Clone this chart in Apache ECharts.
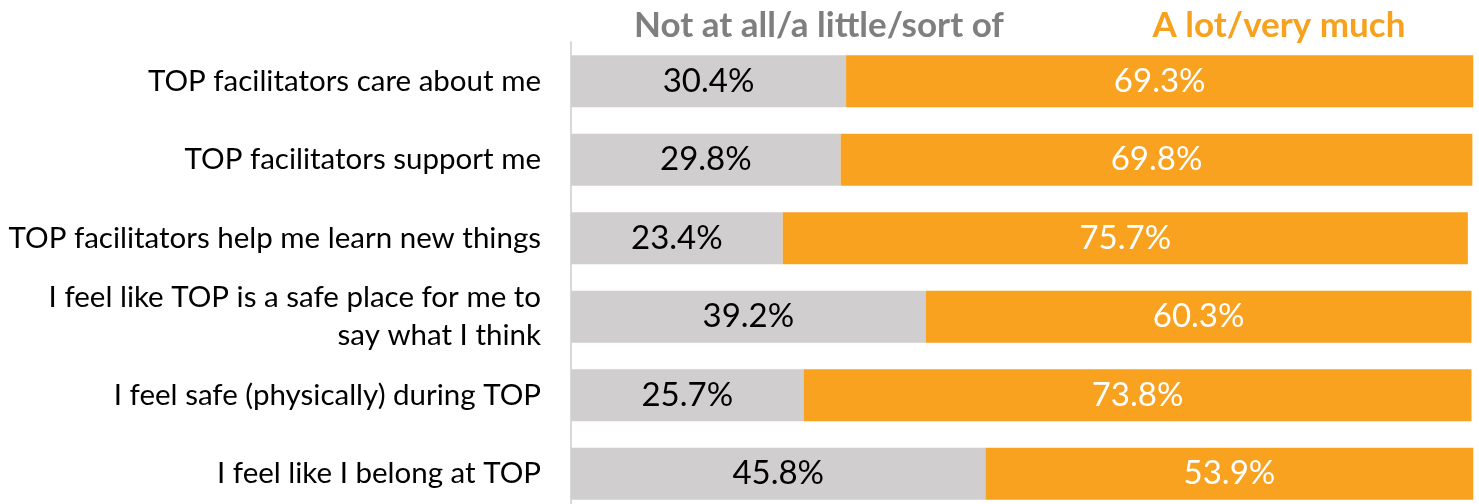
<!DOCTYPE html>
<html><head><meta charset="utf-8">
<script src="https://cdn.jsdelivr.net/npm/echarts@6/dist/echarts.min.js"></script>
<style>html,body{margin:0;padding:0;background:#fff;overflow:hidden}#c{width:1479px;height:520px}</style>
</head><body><div id="c"></div>
<script>
const categories = [
  "TOP facilitators care about me",
  "TOP facilitators support me",
  "TOP facilitators help me learn new things",
  "I feel like TOP is a safe place for me to\nsay what I think",
  "I feel safe (physically) during TOP",
  "I feel like I belong at TOP"
];
const lowValues = [30.4, 29.8, 23.4, 39.2, 25.7, 45.8];
const highValues = [69.3, 69.8, 75.7, 60.3, 73.8, 53.9];
const seriesNames = ["Not at all/a little/sort of", "A lot/very much"];

const FONT = "Lato";
const chart = echarts.init(document.getElementById('c'));
chart.setOption({
  animation: false,
  title: [
    {text: seriesNames[0], left: 814, top: 3, textAlign: 'center',
     textStyle: {fontFamily: FONT, fontWeight: 'bold', fontSize: 35, color: '#7f7f7f'}},
    {text: seriesNames[1], left: 1274, top: 3, textAlign: 'center',
     textStyle: {fontFamily: FONT, fontWeight: 'bold', fontSize: 35, color: '#f7a21e'}}
  ],
  grid: {left: 571, right: 3, top: 42, height: 471, containLabel: false},
  xAxis: {type: 'value', min: 0, max: 100, show: false},
  yAxis: {
    type: 'category', data: categories, inverse: true,
    axisLine: {show: true, lineStyle: {color: '#d9d9d9', width: 2}},
    axisTick: {show: false},
    axisLabel: {fontFamily: FONT, fontSize: 29.5, color: '#000', margin: 30, lineHeight: 38, align: 'right'}
  },
  series: [
    {name: seriesNames[0], type: 'bar', stack: 's', data: lowValues, barCategoryGap: '33.7%',
     itemStyle: {color: '#d0cece'},
     label: {show: true, position: 'inside', formatter: p => p.value.toFixed(1) + '%', fontFamily: FONT, fontSize: 33, color: '#000'}},
    {name: seriesNames[1], type: 'bar', stack: 's', data: highValues, barCategoryGap: '33.7%',
     itemStyle: {color: '#f8a21f'},
     label: {show: true, position: 'inside', formatter: p => p.value.toFixed(1) + '%', fontFamily: FONT, fontSize: 33, color: '#fff'}}
  ]
});
</script></body></html>
